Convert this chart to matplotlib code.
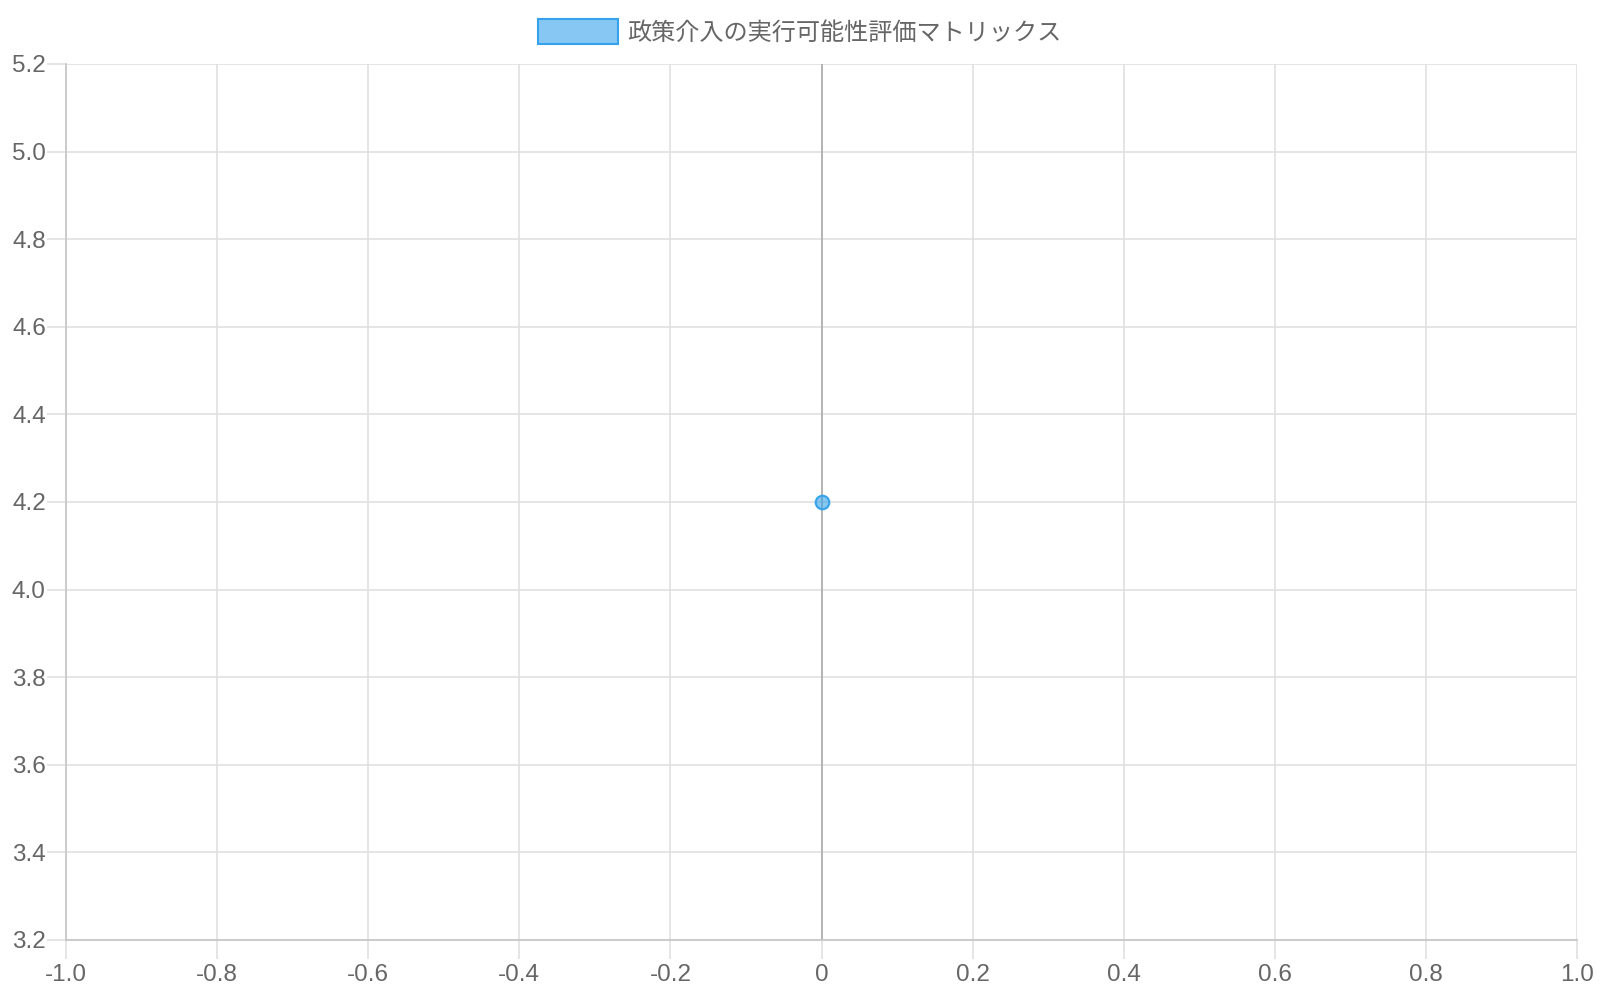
import matplotlib.pyplot as plt
from matplotlib.patches import Patch

# Data
x_vals = [0]
y_vals = [4.2]
series_label = '政策介入の実行可能性評価マトリックス'
x_ticks = [-1.0, -0.8, -0.6, -0.4, -0.2, 0, 0.2, 0.4, 0.6, 0.8, 1.0]
x_labels = ['-1.0', '-0.8', '-0.6', '-0.4', '-0.2', '0', '0.2', '0.4', '0.6', '0.8', '1.0']
y_ticks = [3.2, 3.4, 3.6, 3.8, 4.0, 4.2, 4.4, 4.6, 4.8, 5.0, 5.2]

plt.rcParams['font.family'] = ['Liberation Sans', 'Noto Sans CJK JP', 'DejaVu Sans']

fill = (54/255, 162/255, 235/255, 0.6)
edge = '#36a2eb'
txt = '#666666'
grid_c = '#e0e0e0'

fig = plt.figure(figsize=(16, 10), dpi=100)
ax = fig.add_axes([66/1600, 0.06, (1577-66)/1600, 0.936-0.06])

ax.scatter(x_vals, y_vals, s=95, facecolor=fill, edgecolor=edge, linewidth=1.5, zorder=5)

ax.set_xlim(-1.0, 1.0)
ax.set_ylim(3.2, 5.2)
ax.set_xticks(x_ticks)
ax.set_xticklabels(x_labels)
ax.set_yticks(y_ticks)
ax.set_yticklabels([f'{v:.1f}' for v in y_ticks])

ax.grid(True, color=grid_c, linewidth=1.2)
ax.set_axisbelow(True)
ax.axvline(0, color='#b0b0b0', linewidth=1.3, zorder=1)

for s in ['top', 'right']:
    ax.spines[s].set_visible(False)
for s in ['left', 'bottom']:
    ax.spines[s].set_color('#c8c8c8')
    ax.spines[s].set_linewidth(1.3)

ax.tick_params(axis='both', colors=grid_c, labelcolor=txt, labelsize=17.5,
               length=13.5, width=1.2)
ax.tick_params(axis='x', pad=4)
ax.tick_params(axis='y', pad=1)

handle = Patch(facecolor=fill, edgecolor=edge, linewidth=1.5)
fig.legend([handle], [series_label], loc='center', bbox_to_anchor=(0.5, 0.968),
           frameon=False, fontsize=17.4, labelcolor=txt, handlelength=3.3,
           handleheight=1.17, handletextpad=0.4, borderpad=0)

fig.savefig('out.png', dpi=100, facecolor='white')
